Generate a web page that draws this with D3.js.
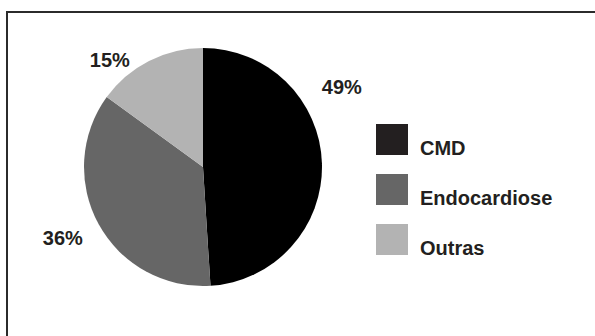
<!DOCTYPE html>
<html>
<head>
<meta charset="utf-8">
<script src="https://cdn.jsdelivr.net/npm/d3@7"></script>
<style>
  html, body { margin: 0; padding: 0; background: #fff; }
  svg { display: block; }
  text { font-family: "Liberation Sans", Arial, sans-serif; font-weight: bold; fill: #231f20; }
</style>
</head>
<body>
<svg id="chart" width="595" height="336"></svg>
<script>
// Distribution of diagnoses (percent)
const categories = ["CMD", "Endocardiose", "Outras"];
const values = [49, 36, 15];
const sliceColors = ["#000000", "#666666", "#b3b3b3"];
const legendColors = ["#231f20", "#666666", "#b3b3b3"];

const svg = d3.select("#chart");

// Outer frame (extends past the right and bottom edges)
svg.append("rect")
  .attr("x", 7).attr("y", 12)
  .attr("width", 620).attr("height", 360)
  .attr("fill", "none")
  .attr("stroke", "#2b2b2b")
  .attr("stroke-width", 2);

const cx = 203, cy = 167, radius = 119;

const data = categories.map((c, i) => ({ name: c, value: values[i], color: sliceColors[i] }));

const pie = d3.pie().value(d => d.value).sort(null);
const arc = d3.arc().innerRadius(0).outerRadius(radius);
const arcs = pie(data);

const g = svg.append("g").attr("transform", `translate(${cx},${cy})`);

g.selectAll("path.slice")
  .data(arcs)
  .join("path")
  .attr("class", "slice")
  .attr("d", arc)
  .attr("fill", d => d.data.color);

// Percentage labels: each placed along a ray from the centre,
// nudged from the slice's middle angle toward where it fits best.
const labelAngleShift = [-28, 2, -14];   // degrees relative to the slice mid-angle
const labelDistance = [160, 157, 142];   // px from centre
g.selectAll("text.pct")
  .data(arcs)
  .join("text")
  .attr("class", "pct")
  .attr("text-anchor", "middle")
  .attr("dy", "0.35em")
  .attr("font-size", 20)
  .each(function (d, i) {
    const a = (d.startAngle + d.endAngle) / 2 + labelAngleShift[i] * Math.PI / 180;
    d3.select(this)
      .attr("x", Math.sin(a) * labelDistance[i])
      .attr("y", -Math.cos(a) * labelDistance[i]);
  })
  .text(d => d.data.value + "%");

// Legend
const legend = svg.append("g").attr("transform", "translate(376,124)");
const rowGap = 50;
const items = legend.selectAll("g.item")
  .data(categories)
  .join("g")
  .attr("class", "item")
  .attr("transform", (d, i) => `translate(0,${i * rowGap})`);

items.append("rect")
  .attr("width", 32).attr("height", 31)
  .attr("fill", (d, i) => legendColors[i]);

items.append("text")
  .attr("x", 44).attr("y", 31)
  .attr("font-size", 20)
  .text(d => d);
</script>
</body>
</html>
